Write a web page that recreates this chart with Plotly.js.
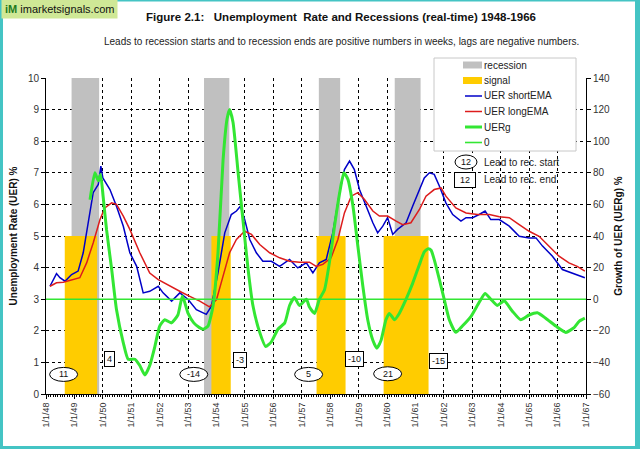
<!DOCTYPE html>
<html>
<head>
<meta charset="utf-8">
<script src="https://cdn.plot.ly/plotly-3.0.1.min.js"></script>
<style>html,body{margin:0;padding:0;background:#fff;}#chart{width:640px;height:449px;}</style>
</head>
<body>
<div id="chart"></div>
<script>
// ---- data (decimal years) ----
const recessionStart = [1948.90, 1953.56, 1957.60, 1960.27];
const recessionEnd   = [1949.87, 1954.45, 1958.35, 1961.18];
const recessionLevel = 10;
const signalStart = [1948.66, 1953.82, 1957.52, 1959.88];
const signalEnd   = [1949.80, 1954.50, 1958.54, 1961.46];
const signalLevel = 5;

const leadToStart = ['11', '-14', '5', '21'];
const leadToEnd   = ['4', '-3', '-10', '-15'];

const shortX = [1948.14,1948.37,1948.49,1948.67,1948.9,1949.13,1949.31,1949.49,1949.66,1949.84,1949.93,1950.0,1950.25,1950.48,1950.72,1950.95,1951.19,1951.42,1951.65,1951.95,1952.12,1952.42,1952.71,1953.0,1953.29,1953.64,1953.82,1954.05,1954.29,1954.52,1954.7,1954.84,1954.99,1955.17,1955.4,1955.63,1955.93,1956.22,1956.57,1956.86,1957.16,1957.39,1957.62,1957.86,1958.09,1958.33,1958.5,1958.68,1958.85,1959.03,1959.26,1959.5,1959.67,1959.85,1960.02,1960.2,1960.37,1960.67,1960.9,1961.14,1961.31,1961.49,1961.66,1961.84,1962.07,1962.31,1962.6,1962.78,1963.01,1963.24,1963.45,1963.65,1963.95,1964.3,1964.65,1965.0,1965.24,1965.47,1965.82,1966.17,1966.52,1966.96];
const shortEMA = [3.41,3.81,3.68,3.57,3.78,3.89,4.47,5.52,6.37,6.63,7.21,6.84,6.47,5.94,5.31,4.47,4.04,3.20,3.25,3.41,3.20,2.94,3.20,2.99,2.67,2.52,2.78,3.83,5.10,5.68,5.79,5.94,5.52,4.89,4.47,4.20,4.20,4.04,4.26,3.99,4.15,3.83,4.15,4.26,5.10,6.37,7.10,7.37,7.10,6.47,5.94,5.42,5.10,5.31,5.58,5.05,5.21,5.42,5.94,6.50,6.84,7.00,6.95,6.58,6.05,5.68,5.47,5.58,5.58,5.68,5.79,5.52,5.52,5.31,4.99,4.94,4.94,4.68,4.36,3.94,3.83,3.68];

const longX = [1948.14,1948.37,1948.61,1948.96,1949.19,1949.43,1949.66,1949.9,1950.07,1950.31,1950.48,1950.72,1950.95,1951.3,1951.65,1951.95,1952.36,1952.77,1953.06,1953.41,1953.75,1954.0,1954.23,1954.46,1954.7,1954.99,1955.23,1955.52,1955.87,1956.22,1956.57,1956.92,1957.27,1957.51,1957.74,1958.03,1958.27,1958.5,1958.74,1958.97,1959.2,1959.5,1959.73,1960.02,1960.32,1960.55,1960.84,1961.14,1961.37,1961.66,1961.9,1962.07,1962.42,1962.78,1963.18,1963.6,1963.95,1964.3,1964.65,1965.0,1965.35,1965.7,1966.05,1966.4,1966.69,1966.96];
const longEMA = [3.41,3.52,3.54,3.62,3.68,4.15,4.78,5.52,5.89,6.05,6.00,5.63,5.21,4.47,3.83,3.62,3.41,3.22,3.09,2.94,2.76,2.99,3.73,4.47,4.89,5.15,5.05,4.73,4.47,4.31,4.20,4.17,4.17,4.04,4.10,4.31,4.89,5.73,6.26,6.37,6.16,5.79,5.63,5.63,5.47,5.36,5.42,5.84,6.26,6.47,6.52,6.26,5.89,5.73,5.68,5.68,5.61,5.58,5.36,5.15,4.99,4.68,4.36,4.15,4.04,3.89];

const uergX = [1949.55,1949.72,1949.84,1949.92,1950.01,1950.13,1950.31,1950.48,1950.72,1950.89,1951.13,1951.3,1951.48,1951.65,1951.83,1952.0,1952.18,1952.41,1952.64,1952.8,1953.0,1953.2,1953.4,1953.53,1953.7,1953.88,1954.05,1954.23,1954.37,1954.46,1954.58,1954.76,1954.93,1955.11,1955.28,1955.52,1955.73,1955.93,1956.16,1956.4,1956.57,1956.74,1956.92,1957.16,1957.27,1957.45,1957.62,1957.8,1957.97,1958.15,1958.33,1958.48,1958.62,1958.8,1958.97,1959.15,1959.32,1959.5,1959.64,1959.79,1959.96,1960.08,1960.26,1960.43,1960.67,1960.9,1961.14,1961.31,1961.45,1961.55,1961.66,1961.84,1962.01,1962.19,1962.42,1962.65,1962.95,1963.24,1963.45,1963.65,1963.88,1964.12,1964.41,1964.7,1965.0,1965.29,1965.58,1965.94,1966.29,1966.58,1966.76,1966.96];
const uerg = [63,80,75,79,65,44,19,-6.5,-27.6,-38,-38,-42,-48,-42,-30,-17,-13,-15,-10,2,-9,-15,-18,-19,-17,-4,29,88,114,120,112,80,50,19,-4,-21,-30,-27,-19,-15,-4,1,-4,0,-5,-9,0,6,23,46,67,80,76,59,34,8,-13,-26,-31,-26,-13,-9,-13,-9,0,10,22,30,32,31,25,12.5,0,-13,-21,-17,-11,-2,3.6,0,-4,-1,-7.6,-13,-10,-8.6,-12,-17,-21,-18,-14,-12];

const zeroX = [1948, 1967];
const zeroY = [0, 0];

const tickYears = [1948,1949,1950,1951,1952,1953,1954,1955,1956,1957,1958,1959,1960,1961,1962,1963,1964,1965,1966,1967];
const tickLabels = ['1/1/48','1/1/49','1/1/50','1/1/51','1/1/52','1/1/53','1/1/54','1/1/55','1/1/56','1/1/57','1/1/58','1/1/59','1/1/60','1/1/61','1/1/62','1/1/63','1/1/64','1/1/65','1/1/66','1/1/67'];

// ---- helpers ----
function blocks(starts, ends, level) {
  const x = [], y = [];
  starts.forEach((s, i) => {
    x.push(s, s, ends[i], ends[i], s, null);
    y.push(0, level, level, 0, 0, null);
  });
  return {x, y};
}
const rec = blocks(recessionStart, recessionEnd, recessionLevel);
const sig = blocks(signalStart, signalEnd, signalLevel);

const FONT = 'Arial, "Liberation Sans", sans-serif';
const GRAY = '#c0c0c0', YELLOW = '#ffcc00', BLUE = '#0000c8', RED = '#dd1c1c', GREEN = '#33e633';

const traces = [
  {x: rec.x, y: rec.y, name: 'recession', type: 'scatter', mode: 'lines', fill: 'toself',
   fillcolor: GRAY, line: {width: 0, color: GRAY}, hoverinfo: 'skip'},
  {x: sig.x, y: sig.y, name: 'signal', type: 'scatter', mode: 'lines', fill: 'toself',
   fillcolor: YELLOW, line: {width: 0, color: YELLOW}, hoverinfo: 'skip'},
  {x: shortX, y: shortEMA, name: 'UER shortEMA', type: 'scatter', mode: 'lines',
   line: {color: BLUE, width: 1.5}},
  {x: longX, y: longEMA, name: 'UER longEMA', type: 'scatter', mode: 'lines',
   line: {color: RED, width: 1.5}},
  {x: uergX, y: uerg, name: 'UERg', type: 'scatter', mode: 'lines', yaxis: 'y2',
   line: {color: GREEN, width: 3, shape: 'spline', smoothing: 0.5}},
  {x: zeroX, y: zeroY, name: '0', type: 'scatter', mode: 'lines', yaxis: 'y2',
   line: {color: GREEN, width: 1.6}}
];

// plot area in pixels: left 46, right 586, top 78, bottom 394
const L = 46, R = 586, T = 78, B = 394;
const px = v => (v - L) / (R - L);
const py = v => (B - v) / (B - T);

const startPos = [[1948.62, 0.62], [1953.20, 0.62], [1957.24, 0.62], [1960.02, 0.64]];
const endPos = [[1950.25, 1.10], [1954.82, 1.07], [1958.86, 1.10], [1961.82, 1.04]];

function note(x, y, text, extra) {
  return Object.assign({xref: 'paper', yref: 'paper', x: px(x), y: py(y), text: text, showarrow: false,
    xanchor: 'center', yanchor: 'middle', font: {family: FONT, size: 10, color: '#222'}}, extra || {});
}

const annotations = [
  note(341, 41, 'Leads to recession starts and to recession ends are positive numbers in weeks, lags are negative numbers.'),
  note(1, 9, '<b><span style="color:#1e7a1e">iM</span></b> imarketsignals.com',
    {xanchor: 'left', bgcolor: '#cfe896', borderpad: 3, font: {family: FONT, size: 11, color: '#111'}}),
  note(466, 162, '12', {font: {family: FONT, size: 9, color: '#111'}}),
  note(482, 162, 'Lead to rec. start', {xanchor: 'left'}),
  note(465, 179.5, '12', {bordercolor: '#000', borderwidth: 1, borderpad: 2, bgcolor: '#fff', width: 16,
    font: {family: FONT, size: 9, color: '#111'}}),
  note(482, 179.5, 'Lead to rec. end', {xanchor: 'left'})
];
const shapes = [
  // frame
  {type: 'rect', xref: 'paper', yref: 'paper', x0: px(0), x1: px(3), y0: py(449), y1: py(0), fillcolor: '#44c4c4', line: {width: 0}},
  {type: 'rect', xref: 'paper', yref: 'paper', x0: px(635), x1: px(640), y0: py(449), y1: py(0), fillcolor: '#44c4c4', line: {width: 0}},
  {type: 'rect', xref: 'paper', yref: 'paper', x0: px(0), x1: px(640), y0: py(449), y1: py(446), fillcolor: '#44c4c4', line: {width: 0}},
  {type: 'rect', xref: 'paper', yref: 'paper', x0: px(0), x1: px(640), y0: py(1.5), y1: py(0), fillcolor: '#44c4c4', line: {width: 0}},
  // legend box
  {type: 'rect', xref: 'paper', yref: 'paper', x0: px(434), x1: px(576), y0: py(151), y1: py(58),
   fillcolor: '#fff', line: {color: '#c8c8c8', width: 1}},
  // legend-key ellipse
  {type: 'circle', xref: 'paper', yref: 'paper', xsizemode: 'pixel', ysizemode: 'pixel',
   xanchor: px(466), yanchor: py(162), x0: -11, x1: 11, y0: -7, y1: 7,
   fillcolor: '#fff', line: {color: '#000', width: 1}}
];

// compact legend entries, like the original
traces.forEach((tr, i) => {
  const yc = 65 + i * 15.5;
  if (tr.fill) {
    shapes.push({type: 'rect', xref: 'paper', yref: 'paper', x0: px(463), x1: px(482), y0: py(yc + 3.5), y1: py(yc - 3.5),
      fillcolor: tr.fillcolor, line: {width: 0}});
  } else {
    shapes.push({type: 'line', xref: 'paper', yref: 'paper', x0: px(465), x1: px(482), y0: py(yc), y1: py(yc),
      line: {color: tr.line.color, width: tr.line.width}});
  }
  annotations.push(note(482, yc, tr.name, {xanchor: 'left'}));
});

leadToStart.forEach((t, i) => {
  shapes.push({type: 'circle', xref: 'x', yref: 'y', xsizemode: 'pixel', ysizemode: 'pixel',
    xanchor: startPos[i][0], yanchor: startPos[i][1], x0: -14, x1: 14, y0: -7, y1: 7,
    fillcolor: '#fff', line: {color: '#000', width: 1}});
  annotations.push({x: startPos[i][0], y: startPos[i][1], xref: 'x', yref: 'y', text: t, showarrow: false,
    xanchor: 'center', yanchor: 'middle', font: {family: FONT, size: 9, color: '#111'}});
});
leadToEnd.forEach((t, i) => {
  annotations.push({x: endPos[i][0], y: endPos[i][1], xref: 'x', yref: 'y', text: t, showarrow: false,
    xanchor: 'center', yanchor: 'middle',
    bordercolor: '#000', borderwidth: 1, borderpad: 2, bgcolor: '#fff', align: 'left',
    font: {family: FONT, size: 9, color: '#111'}});
});

const layout = {
  width: 640, height: 449,
  margin: {l: L, r: 640 - R, t: T, b: 449 - B, pad: 0},
  paper_bgcolor: '#fff', plot_bgcolor: '#fff',
  font: {family: FONT, size: 10, color: '#333'},
  showlegend: false,
  title: {text: '<b>Figure 2.1:   Unemployment  Rate and Recessions (real-time) 1948-1966</b>',
    font: {family: FONT, size: 11.5, color: '#111'}, x: 341 / 640, xanchor: 'center',
    y: 1 - 17 / 449, yanchor: 'middle', yref: 'container'},
  xaxis: {range: [1948, 1967], tickmode: 'array', tickvals: tickYears, ticktext: tickLabels,
    tickangle: -90, tickfont: {size: 9, color: '#333'}, showgrid: true, gridcolor: '#000',
    griddash: 'dot', gridwidth: 1, showline: true, linecolor: '#000', linewidth: 1,
    ticks: 'outside', ticklen: 4, tickcolor: '#000', zeroline: false,
    minor: {tickmode: 'linear', tick0: 1948, dtick: 1 / 12, ticks: 'outside', ticklen: 2, tickcolor: '#000', showgrid: false}},
  yaxis: {range: [0, 10], dtick: 1, tick0: 0, showgrid: true, gridcolor: '#000', griddash: 'dot',
    gridwidth: 1, showline: true, linecolor: '#000', linewidth: 1, ticks: 'outside', ticklen: 4,
    tickcolor: '#000', zeroline: false, tickfont: {size: 10, color: '#333'},
    title: {text: '<b>Unemployment Rate (UER) %</b>', font: {size: 10, color: '#111'}, standoff: 8}},
  yaxis2: {range: [-60, 140], dtick: 20, tick0: -60, overlaying: 'y', side: 'right', showgrid: false,
    showline: true, linecolor: '#000', linewidth: 1, ticks: 'outside', ticklen: 4, tickcolor: '#000',
    zeroline: false, tickfont: {size: 10, color: '#333'},
    title: {text: '<b>Growth of UER (UERg) %</b>', font: {size: 10, color: '#111'}, standoff: 5}},
  annotations: annotations,
  shapes: shapes
};

Plotly.newPlot('chart', traces, layout, {staticPlot: true, displayModeBar: false});
</script>
</body>
</html>
